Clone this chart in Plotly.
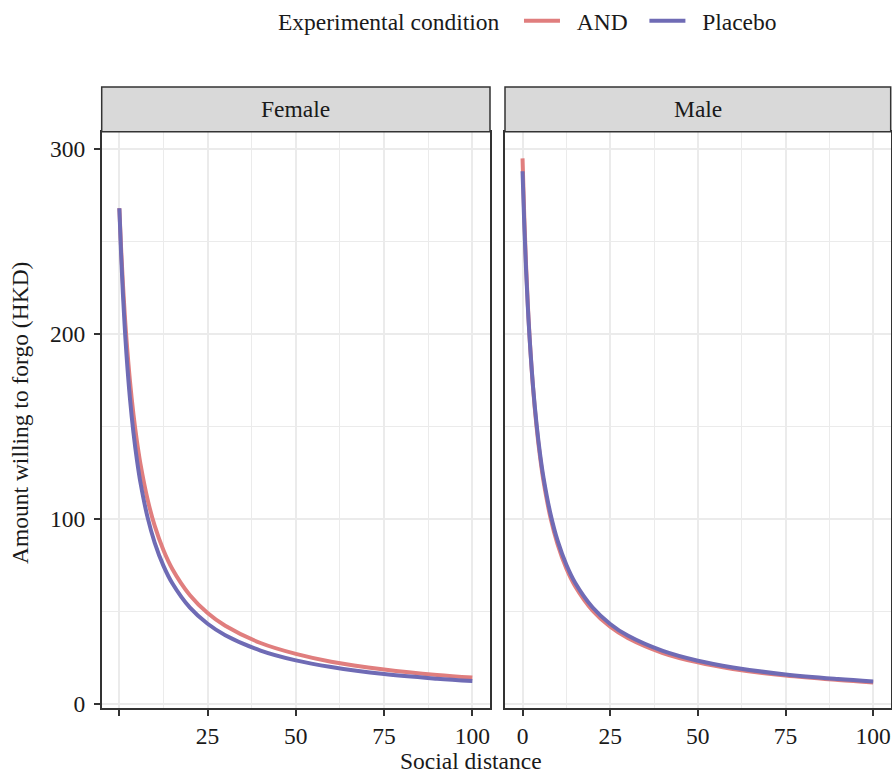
import plotly.graph_objects as go

# ---------------- data ----------------
social_distance = [0, 0.5, 1, 1.5, 2, 3, 4, 5, 6, 8, 10, 12.5, 15, 20, 25, 30, 40, 50, 60, 75, 90, 100]

female_and = [268, 246.1, 227.5, 211.5, 197.6, 174.7, 156.5, 141.8, 129.6, 110.6, 96.4, 83.1,
              73.0, 58.8, 49.2, 42.3, 33.0, 27.1, 22.9, 18.7, 15.7, 14.3]
female_placebo = [268, 242.9, 222.0, 204.5, 189.5, 165.3, 146.6, 131.7, 119.5, 100.9, 87.3, 74.7,
                  65.3, 52.1, 43.4, 37.2, 28.9, 23.6, 20.0, 16.2, 13.7, 12.4]
male_and = [295, 263.2, 237.5, 216.4, 198.8, 170.9, 149.9, 133.5, 120.3, 100.5, 86.3, 73.3,
            63.7, 50.5, 41.8, 35.7, 27.6, 22.5, 19.0, 15.4, 13.0, 11.7]
male_placebo = [288, 258.8, 234.9, 215.1, 198.3, 171.6, 151.3, 135.2, 122.2, 102.6, 88.3, 75.3,
                65.6, 52.2, 43.3, 37.0, 28.7, 23.4, 19.8, 16.0, 13.5, 12.2]

panels = ["Female", "Male"]
conditions = ["AND", "Placebo"]
x_ticks = [0, 25, 50, 75, 100]
x_ticktext_female = ["", "25", "50", "75", "100"]
x_ticktext_male = ["0", "25", "50", "75", "100"]
y_ticks = [0, 100, 200, 300]

# ---------------- styling ----------------
W, H = 892, 774
FONT = "Liberation Serif, Times New Roman, serif"
FS = 23.5
TXT = "#1a1a1a"
colors = {"AND": "#E07E7E", "Placebo": "#6F6BB5"}
NB = "\u00a0"
legend_labels = {"AND": NB * 2 + "AND" + NB * 2, "Placebo": NB * 2 + "Placebo"}


def px(x):
    return x / W


def py(y):
    return 1 - y / H


fig = go.Figure()

series = {
    ("Female", "AND"): female_and,
    ("Female", "Placebo"): female_placebo,
    ("Male", "AND"): male_and,
    ("Male", "Placebo"): male_placebo,
}

for i, panel in enumerate(panels):
    for cond in conditions:
        fig.add_trace(go.Scatter(
            x=social_distance, y=series[(panel, cond)],
            mode="lines", name=legend_labels[cond],
            line=dict(color=colors[cond], width=4, shape="spline", smoothing=1.0),
            xaxis="x" if i == 0 else "x2",
            yaxis="y" if i == 0 else "y2",
            showlegend=(i == 0), legendgroup=cond,
        ))

# panel geometry in pixels
f_left, f_right = 101.7, 490.0
m_left, m_right = 505.0, 890.7
p_top, p_bottom = 131.7, 708.3
s_top = 87.0

common_x = dict(
    range=[-5, 105], tickmode="array", tickvals=x_ticks,
    showgrid=True, gridcolor="#EBEBEB", gridwidth=2,
    minor=dict(tickmode="array", tickvals=[12.5, 37.5, 62.5, 87.5], showgrid=True,
               gridcolor="#EBEBEB", gridwidth=1, ticks=""),
    zeroline=False, showline=True, linecolor="#333333", linewidth=1.5, mirror=True,
    ticks="outside", ticklen=6, tickwidth=1.5, tickcolor="#333333",
    tickfont=dict(family=FONT, size=FS, color=TXT), ticklabelstandoff=0,
    fixedrange=True, automargin=False,
)
common_y = dict(
    range=[-2.3, 309.4], tickmode="array", tickvals=y_ticks,
    showgrid=True, gridcolor="#EBEBEB", gridwidth=2,
    minor=dict(tickmode="array", tickvals=[50, 150, 250], showgrid=True,
               gridcolor="#EBEBEB", gridwidth=1, ticks=""),
    zeroline=False, showline=True, linecolor="#333333", linewidth=1.5, mirror=True,
    tickcolor="#333333", tickwidth=1.5, ticklen=6,
    tickfont=dict(family=FONT, size=FS, color=TXT),
    domain=[py(p_bottom), py(p_top)], fixedrange=True, automargin=False,
)

fig.update_layout(
    width=W, height=H, autosize=False,
    margin=dict(l=0, r=0, t=0, b=0, pad=0, autoexpand=False),
    paper_bgcolor="white", plot_bgcolor="white",
    font=dict(family=FONT, size=FS, color=TXT),
    xaxis=dict(common_x, domain=[px(f_left), px(f_right)], ticktext=x_ticktext_female, anchor="y"),
    xaxis2=dict(common_x, domain=[px(m_left), px(m_right)], ticktext=x_ticktext_male, anchor="y2"),
    yaxis=dict(common_y, anchor="x", ticks="outside", showticklabels=True, ticklabelstandoff=4),
    yaxis2=dict(common_y, anchor="x2", ticks="", showticklabels=False),
    legend=dict(
        orientation="h", x=px(276), xanchor="left", y=py(21), yanchor="middle",
        title=dict(text="Experimental condition" + NB * 2, font=dict(family=FONT, size=FS, color=TXT)),
        font=dict(family=FONT, size=FS, color=TXT),
        bgcolor="rgba(0,0,0,0)", itemwidth=36,
    ),
    showlegend=True,
)

shapes = []
annotations = []
for (l, r), name in zip([(f_left, f_right), (m_left, m_right)], panels):
    shapes.append(dict(type="rect", xref="paper", yref="paper",
                       x0=px(l), x1=px(r), y0=py(p_top), y1=py(s_top),
                       fillcolor="#D9D9D9", line=dict(color="#333333", width=1.5), layer="above"))
    annotations.append(dict(text=name, xref="paper", yref="paper",
                            x=px((l + r) / 2), y=py((s_top + p_top) / 2),
                            xanchor="center", yanchor="middle", showarrow=False,
                            font=dict(family=FONT, size=FS, color=TXT)))

annotations.append(dict(text="Social distance", xref="paper", yref="paper",
                        x=px(471), y=py(761), xanchor="center", yanchor="middle", showarrow=False,
                        borderpad=0, font=dict(family=FONT, size=FS, color=TXT)))
annotations.append(dict(text="Amount willing to forgo (HKD)", xref="paper", yref="paper",
                        x=px(20), y=py(413), xanchor="center", yanchor="middle", showarrow=False,
                        textangle=-90, font=dict(family=FONT, size=FS, color=TXT)))

fig.update_layout(shapes=shapes, annotations=annotations)

page_fix = (
    "document.documentElement.style.margin='0px';"
    "document.documentElement.style.overflow='hidden';"
    "document.body.style.margin='0px';"
    "document.body.style.overflow='hidden';"
)

fig.write_html("out.html", config={"displayModeBar": False}, post_script=page_fix)
